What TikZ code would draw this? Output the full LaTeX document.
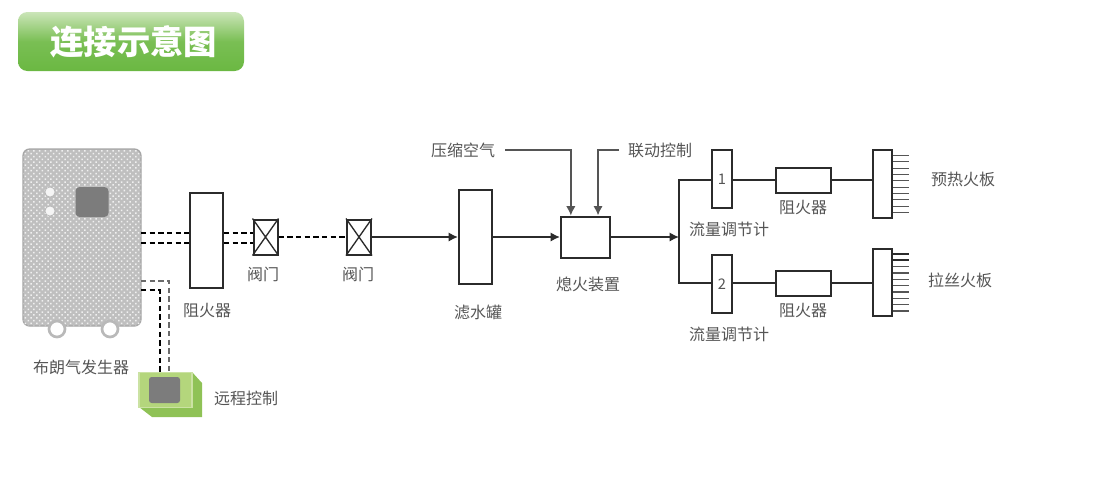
\documentclass[tikz,border=0pt]{standalone}
\usepackage{fontspec}
\setmainfont{Noto Sans CJK SC}
\usetikzlibrary{arrows.meta,patterns.meta,shadings}
\definecolor{linecol}{HTML}{2B2B2B}
\definecolor{labelcol}{HTML}{555555}
\definecolor{screencol}{HTML}{7C7C7C}
\definecolor{titlegreen}{HTML}{6BB842}
\definecolor{titlelight}{HTML}{CBE5B8}
\definecolor{remotefront}{HTML}{B4D67C}
\definecolor{remoteside}{HTML}{8FC256}
\tikzset{
  unitbox/.style n args={2}{draw=linecol,line width=1.5pt,fill=white,inner sep=0pt,
    minimum width=#1*0.75pt,minimum height=#2*0.75pt},
  label/.style={text=labelcol,font=\fontsize{12pt}{14pt}\selectfont,inner sep=0pt},
  pipe/.style={draw=linecol,line width=1.5pt},
  feed/.style={pipe,-{Latex[length=7pt,width=7pt]}},
  gasline/.style={draw=black,line width=1.5pt,dash pattern=on 4pt off 2.5pt},
  thinline/.style={draw=linecol!80,line width=1pt},
  tooth/.style={draw=linecol!80,line width=0.9pt},
  lamp/.style={circle,fill=white!92!gray,draw=gray!60,minimum size=10*0.75pt,inner sep=0pt},
  foot/.style={circle,draw=gray!55,fill=white,line width=2pt,minimum size=16*0.75pt,inner sep=0pt}
}
\begin{document}
\begin{tikzpicture}[x=0.75pt,y=-0.75pt]
  \useasboundingbox (0,0) rectangle (1100,479);
  % title
  \node[rounded corners=7pt,top color=titlelight,bottom color=titlegreen,middle color=titlegreen!85!titlelight,
    minimum width=226*0.75pt,minimum height=59*0.75pt,inner sep=0pt,text=white,
    font=\fontsize{25pt}{27pt}\selectfont\bfseries] (title) at (131,41.5) {\hspace*{4.5pt}连接示意图};
  % generator
  \node[rounded corners=5pt,draw=gray!70,line width=1pt,fill=gray!50,inner sep=0pt,
    minimum width=118*0.75pt,minimum height=177*0.75pt,
    postaction={pattern={Dots[distance=3pt,radius=0.8pt,angle=45]},pattern color=gray!12}] (generator) at (82,237.5) {};
  \node[foot] (footA) at (57,329) {};
  \node[foot] (footB) at (110,329) {};
  \node[rounded corners=3pt,fill=screencol,minimum width=33*0.75pt,minimum height=30*0.75pt,inner sep=0pt] (screen) at (92,202) {};
  \node[lamp] (lampA) at (50,192) {};
  \node[lamp] (lampB) at (50,211) {};
  \node[label] (genlabel) at (81,367) {布朗气发生器};
  % remote control
  \fill[remoteside] (192,372) -- (202,383) -- (202,417) -- (152,417) -- (139,407) -- cycle;
  \node[draw=remotefront!70!white,line width=1pt,fill=remotefront,minimum width=53*0.75pt,minimum height=35*0.75pt,inner sep=0pt] (remote) at (165.5,390) {};
  \node[rounded corners=2pt,fill=screencol,minimum width=31*0.75pt,minimum height=26*0.75pt,inner sep=0pt] (remotescreen) at (164.5,390) {};
  \node[label] (remotelabel) at (246,398) {远程控制};
  \coordinate (outA) at (141,281);
  \coordinate (outB) at (141,290);
  \draw[gasline,line width=0.9pt,draw=linecol!70] (outA) -| (169,372.5);
  \draw[gasline] (outB) -| (160,372.5);
  % boxes
  \node[unitbox={33}{95}] (arresterMain) at (206.5,240.5) {};
  \node[label] (arresterMainlabel) at (207,311) {阻火器};
  \node[unitbox={24}{35}] (valveA) at (265.5,237) {};
  \node[label] (valveAlabel) at (263,274) {阀门};
  \node[unitbox={24}{35}] (valveB) at (359,237) {};
  \node[label] (valveBlabel) at (358,274) {阀门};
  \node[unitbox={33}{94}] (filter) at (475.5,237) {};
  \node[label] (filterlabel) at (478,312) {滤水罐};
  \node[unitbox={49}{41}] (igniter) at (585.5,237) {};
  \node[label] (igniterlabel) at (588,284) {熄火装置};
  \foreach \n/\a/\b/\t in {A/179/180/1,B/284/283/2}{
    \node[unitbox={20}{58},text=labelcol,font=\fontsize{11pt}{13pt}\selectfont] (flow\n) at (722,\a) {\t};
    \node[label] (flow\n label) at (729,\a+50) {流量调节计};
    \node[unitbox={55}{25}] (arrester\n) at (803.5,\b) {};
    \node[label] (arrester\n label) at (803,\b+28) {阻火器};
  }
  \node[unitbox={19}{68}] (plateA) at (882.5,184) {};
  \node[unitbox={19}{67}] (plateB) at (882.5,282.5) {};
  \node[label] (plateAlabel) at (963,179) {预热火板};
  \node[label] (plateBlabel) at (960,280) {拉丝火板};
  % gas lines
  \coordinate (gasA) at (141,233);
  \coordinate (gasB) at (141,243);
  \draw[gasline] (gasA) -- (gasA -| arresterMain.west);
  \draw[gasline] (gasB) -- (gasB -| arresterMain.west);
  \draw[gasline] (gasA -| arresterMain.east) -- (gasA -| valveA.west);
  \draw[gasline] (gasB -| arresterMain.east) -- (gasB -| valveA.west);
  \draw[gasline] (valveA.east) -- (valveB.west);
  \draw[pipe,line width=1pt] (valveA.north west) -- (valveA.south east) (valveA.north east) -- (valveA.south west);
  \draw[pipe,line width=1pt] (valveB.north west) -- (valveB.south east) (valveB.north east) -- (valveB.south west);
  % arrows
  \draw[feed] (valveB.east) -- (filter.west);
  \draw[feed] (filter.east) -- (igniter.west);
  \coordinate (branch) at (679,237);
  \draw[feed] (igniter.east) -- (branch);
  \draw[pipe] (arresterA.west -| flowA.west) -| (branch) |- (arresterB.west -| flowB.west);
  \draw[pipe] (arresterA.west -| flowA.east) -- (arresterA.west);
  \draw[pipe] (arresterA.east) -- (arresterA.east -| plateA.west);
  \draw[pipe] (arresterB.west -| flowB.east) -- (arresterB.west);
  \draw[pipe] (arresterB.east) -- (arresterB.east -| plateB.west);
  % inputs
  \node[label] (airlabel) at (463,150) {压缩空气};
  \node[label] (linklabel) at (660,150) {联动控制};
  \coordinate (airstart) at (505,150);
  \coordinate (linkstart) at (619,150);
  \draw[thinline,-{Latex[length=7pt,width=7pt]}] (airstart) -| ([xshift=-11pt]igniter.north);
  \draw[thinline,line width=1.4pt,-{Latex[length=7pt,width=7pt]}] (linkstart) -| ([xshift=9.4pt]igniter.north);
  % burner teeth
  \foreach \i in {0,...,9}{
    \draw[tooth] ([yshift=21.4pt-\i*4.75pt]plateA.east) -- ++(16,0);
    \draw[tooth] ([yshift=21.4pt-\i*4.75pt]plateB.east) -- ++(16,0);
  }
  \draw[pipe] ([yshift=21.4pt]plateB.east) -- ++(16,0);
  \draw[pipe] ([yshift=16.65pt]plateB.east) -- ++(16,0);
\end{tikzpicture}
\end{document}
